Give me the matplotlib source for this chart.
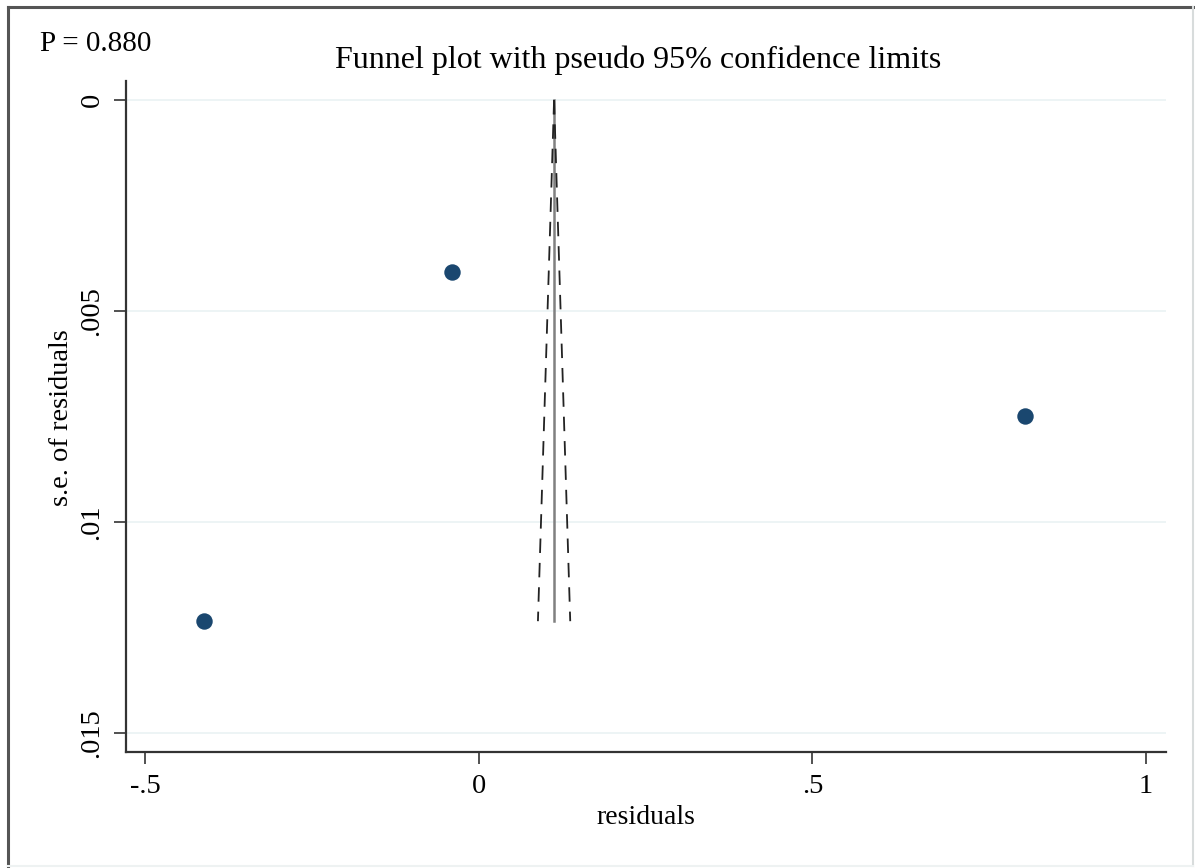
import matplotlib
matplotlib.use("Agg")
import matplotlib.pyplot as plt
from matplotlib.lines import Line2D
import numpy as np

# study residuals and their standard errors
residuals = [-0.412, -0.040, 0.819]
se_residuals = [0.01235, 0.00408, 0.00749]
pooled = 0.113
p_value = "P = 0.880"

x_ticks = [-0.5, 0, 0.5, 1]
x_tick_labels = ["-.5", "0", ".5", "1"]
y_ticks = [0, 0.005, 0.01, 0.015]
y_tick_labels = ["0", ".005", ".01", ".015"]

W, H = 1195, 868
plt.rcParams['font.family'] = ['Liberation Serif', 'DejaVu Serif']

fig = plt.figure(figsize=(W / 100, H / 100), dpi=100)
ax = fig.add_axes([126 / W, 1 - 752 / H, (1166 - 126) / W, (752 - 81) / H])

# outer graph border
fig.add_artist(Line2D([8 / W, 8 / W], [1 - 7 / H, 1 - 866 / H], transform=fig.transFigure, color='#555555', lw=2.2))
fig.add_artist(Line2D([8 / W, 1193 / W], [1 - 7 / H, 1 - 7 / H], transform=fig.transFigure, color='#555555', lw=2.2))
fig.add_artist(Line2D([1193 / W, 1193 / W], [1 - 7 / H, 1 - 866 / H], transform=fig.transFigure, color='#d8dcdc', lw=1.5))
fig.add_artist(Line2D([8 / W, 1193 / W], [1 - 866 / H, 1 - 866 / H], transform=fig.transFigure, color='#eef2f2', lw=1.5))

# pseudo 95% confidence limits
se_max = max(se_residuals)
se_line = np.array([0, se_max])
ax.plot([pooled, pooled], se_line, color='#808080', lw=1.8, zorder=2)
ax.plot(pooled - 1.96 * se_line, se_line, color='#222222', lw=1.3, ls=(0, (8, 5.5)), zorder=2)
ax.plot(pooled + 1.96 * se_line, se_line, color='#222222', lw=1.3, ls=(0, (8, 5.5)), zorder=2)

ax.scatter(residuals, se_residuals, s=140, color='#1a476f', zorder=3, linewidths=0)

ax.set_xlim(-0.5285, 1.030)
ax.set_ylim(0.01545, -0.00045)
ax.set_xticks(x_ticks)
ax.set_xticklabels(x_tick_labels, fontsize=20.5)
ax.set_yticks(y_ticks)
ax.set_yticklabels(y_tick_labels, fontsize=20.5, rotation=90, va='center')
ax.tick_params(length=8.5, width=1.2, color='#333333', pad=7)
ax.grid(axis='y', color='#eaf2f3', lw=1.2)
ax.set_axisbelow(True)

for side in ['top', 'right']:
    ax.spines[side].set_visible(False)
for side in ['left', 'bottom']:
    ax.spines[side].set_color('#333333')
    ax.spines[side].set_linewidth(1.6)

ax.set_xlabel("residuals", fontsize=20)
ax.set_ylabel("s.e. of residuals", fontsize=20.5)
ax.xaxis.set_label_coords((646 - 126) / 1040, -(818 - 752) / 671, transform=ax.transAxes)
ax.yaxis.set_label_coords(-(126 - 62) / 1040, (752 - 418) / 671, transform=ax.transAxes)
ax.xaxis.label.set_va('center')
ax.yaxis.label.set_va('center')

fig.text(638 / W, 1 - 60 / H, "Funnel plot with pseudo 95% confidence limits", fontsize=23, ha='center', va='center')
fig.text(40 / W, 1 - 44 / H, p_value, fontsize=21, ha='left', va='center')

fig.savefig("out.png", dpi=100)
